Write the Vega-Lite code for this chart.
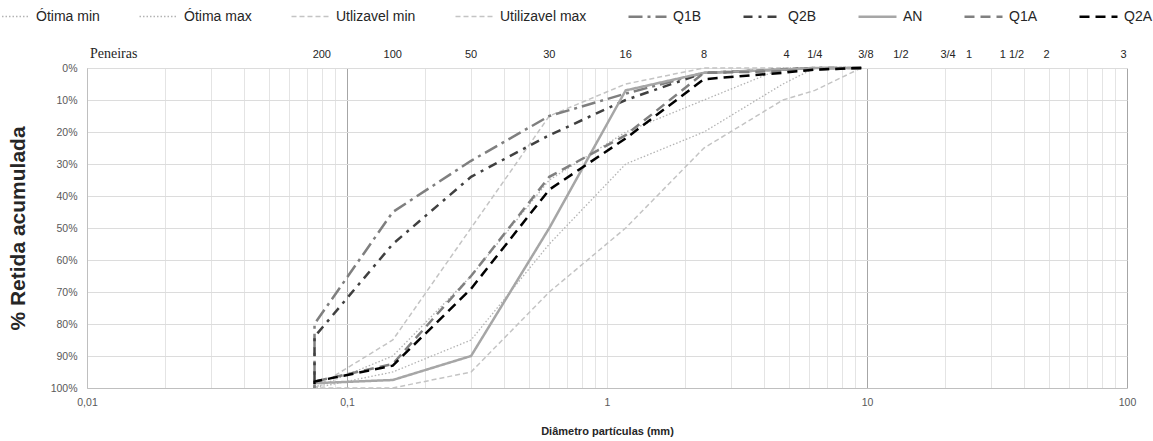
{
  "$schema": "https://vega.github.io/schema/vega-lite/v6.json",
  "width": 1040,
  "height": 320,
  "autosize": {"type": "none"},
  "padding": {"left": 87, "top": 68, "right": 26, "bottom": 53},
  "background": "white",
  "config": {
    "view": {"stroke": null},
    "font": "Liberation Sans",
    "axisY": {
      "ticks": false,
      "grid": true,
      "gridColor": "#dcdcdc",
      "domainColor": "#bfbfbf",
      "labelFontSize": 10.5,
      "labelColor": "#595959",
      "labelPadding": 10,
      "labelFlush": false,
      "labelOverlap": false,
      "titleFontSize": 21,
      "titleFontWeight": "bold",
      "titleColor": "#262626",
      "titlePadding": 22,
      "tickCount": 50
    },
    "legend": {
      "orient": "none",
      "legendX": -97,
      "legendY": -72,
      "direction": "horizontal",
      "columns": 9,
      "symbolType": "stroke",
      "symbolSize": 1444,
      "labelFontSize": 14,
      "labelOffset": 5,
      "columnPadding": 36,
      "labelColor": "#262626",
      "labelFont": "Liberation Sans"
    }
  },
  "datasets": {
    "curves": [
      {"s": "Ótima min", "i": 0, "d": 9.5, "p": 0},
      {"s": "Ótima min", "i": 1, "d": 6.3, "p": 0},
      {"s": "Ótima min", "i": 2, "d": 4.75, "p": 0},
      {"s": "Ótima min", "i": 3, "d": 2.36, "p": 10},
      {"s": "Ótima min", "i": 4, "d": 1.18, "p": 20},
      {"s": "Ótima min", "i": 5, "d": 0.6, "p": 35},
      {"s": "Ótima min", "i": 6, "d": 0.3, "p": 65},
      {"s": "Ótima min", "i": 7, "d": 0.15, "p": 90},
      {"s": "Ótima min", "i": 8, "d": 0.075, "p": 100},
      {"s": "Ótima max", "i": 0, "d": 9.5, "p": 0},
      {"s": "Ótima max", "i": 1, "d": 6.3, "p": 0},
      {"s": "Ótima max", "i": 2, "d": 4.75, "p": 5},
      {"s": "Ótima max", "i": 3, "d": 2.36, "p": 20},
      {"s": "Ótima max", "i": 4, "d": 1.18, "p": 30},
      {"s": "Ótima max", "i": 5, "d": 0.6, "p": 55},
      {"s": "Ótima max", "i": 6, "d": 0.3, "p": 85},
      {"s": "Ótima max", "i": 7, "d": 0.15, "p": 95},
      {"s": "Ótima max", "i": 8, "d": 0.075, "p": 100},
      {"s": "Utlizavel min", "i": 0, "d": 9.5, "p": 0},
      {"s": "Utlizavel min", "i": 1, "d": 6.3, "p": 0},
      {"s": "Utlizavel min", "i": 2, "d": 4.75, "p": 0},
      {"s": "Utlizavel min", "i": 3, "d": 2.36, "p": 0},
      {"s": "Utlizavel min", "i": 4, "d": 1.18, "p": 5},
      {"s": "Utlizavel min", "i": 5, "d": 0.6, "p": 15},
      {"s": "Utlizavel min", "i": 6, "d": 0.3, "p": 50},
      {"s": "Utlizavel min", "i": 7, "d": 0.15, "p": 85},
      {"s": "Utlizavel min", "i": 8, "d": 0.075, "p": 100},
      {"s": "Utilizavel max", "i": 0, "d": 9.5, "p": 0},
      {"s": "Utilizavel max", "i": 1, "d": 6.3, "p": 7},
      {"s": "Utilizavel max", "i": 2, "d": 4.75, "p": 10},
      {"s": "Utilizavel max", "i": 3, "d": 2.36, "p": 25},
      {"s": "Utilizavel max", "i": 4, "d": 1.18, "p": 50},
      {"s": "Utilizavel max", "i": 5, "d": 0.6, "p": 70},
      {"s": "Utilizavel max", "i": 6, "d": 0.3, "p": 95},
      {"s": "Utilizavel max", "i": 7, "d": 0.15, "p": 100},
      {"s": "Utilizavel max", "i": 8, "d": 0.075, "p": 100},
      {"s": "Q1B", "i": 0, "d": 9.5, "p": 0},
      {"s": "Q1B", "i": 1, "d": 6.3, "p": 0},
      {"s": "Q1B", "i": 2, "d": 4.75, "p": 0.5},
      {"s": "Q1B", "i": 3, "d": 2.36, "p": 1.5},
      {"s": "Q1B", "i": 4, "d": 1.18, "p": 8},
      {"s": "Q1B", "i": 5, "d": 0.6, "p": 15},
      {"s": "Q1B", "i": 6, "d": 0.3, "p": 29},
      {"s": "Q1B", "i": 7, "d": 0.15, "p": 45},
      {"s": "Q1B", "i": 8, "d": 0.075, "p": 80},
      {"s": "Q1B", "i": 9, "d": 0.075, "p": 100},
      {"s": "Q2B", "i": 0, "d": 9.5, "p": 0},
      {"s": "Q2B", "i": 1, "d": 6.3, "p": 0},
      {"s": "Q2B", "i": 2, "d": 4.75, "p": 0.5},
      {"s": "Q2B", "i": 3, "d": 2.36, "p": 1.5},
      {"s": "Q2B", "i": 4, "d": 1.18, "p": 10},
      {"s": "Q2B", "i": 5, "d": 0.6, "p": 21},
      {"s": "Q2B", "i": 6, "d": 0.3, "p": 34},
      {"s": "Q2B", "i": 7, "d": 0.15, "p": 55},
      {"s": "Q2B", "i": 8, "d": 0.075, "p": 84},
      {"s": "Q2B", "i": 9, "d": 0.075, "p": 100},
      {"s": "AN", "i": 0, "d": 9.5, "p": 0},
      {"s": "AN", "i": 1, "d": 6.3, "p": 0},
      {"s": "AN", "i": 2, "d": 4.75, "p": 0.5},
      {"s": "AN", "i": 3, "d": 2.36, "p": 1.5},
      {"s": "AN", "i": 4, "d": 1.18, "p": 7},
      {"s": "AN", "i": 5, "d": 0.6, "p": 50},
      {"s": "AN", "i": 6, "d": 0.3, "p": 90},
      {"s": "AN", "i": 7, "d": 0.15, "p": 97.5},
      {"s": "AN", "i": 8, "d": 0.075, "p": 98.5},
      {"s": "AN", "i": 9, "d": 0.075, "p": 100},
      {"s": "Q1A", "i": 0, "d": 9.5, "p": 0},
      {"s": "Q1A", "i": 1, "d": 6.3, "p": 0.5},
      {"s": "Q1A", "i": 2, "d": 4.75, "p": 1},
      {"s": "Q1A", "i": 3, "d": 2.36, "p": 1.5},
      {"s": "Q1A", "i": 4, "d": 1.18, "p": 21},
      {"s": "Q1A", "i": 5, "d": 0.6, "p": 34},
      {"s": "Q1A", "i": 6, "d": 0.3, "p": 65},
      {"s": "Q1A", "i": 7, "d": 0.15, "p": 92.5},
      {"s": "Q1A", "i": 8, "d": 0.075, "p": 98},
      {"s": "Q1A", "i": 9, "d": 0.075, "p": 100},
      {"s": "Q2A", "i": 0, "d": 9.5, "p": 0},
      {"s": "Q2A", "i": 1, "d": 6.3, "p": 0.5},
      {"s": "Q2A", "i": 2, "d": 4.75, "p": 1.5},
      {"s": "Q2A", "i": 3, "d": 2.36, "p": 3.5},
      {"s": "Q2A", "i": 4, "d": 1.18, "p": 22},
      {"s": "Q2A", "i": 5, "d": 0.6, "p": 38},
      {"s": "Q2A", "i": 6, "d": 0.3, "p": 69},
      {"s": "Q2A", "i": 7, "d": 0.15, "p": 93},
      {"s": "Q2A", "i": 8, "d": 0.075, "p": 98},
      {"s": "Q2A", "i": 9, "d": 0.075, "p": 100}
    ],
    "sieves": [
      {"n": "200", "d": 0.08},
      {"n": "100", "d": 0.15},
      {"n": "50", "d": 0.3},
      {"n": "30", "d": 0.6},
      {"n": "16", "d": 1.18},
      {"n": "8", "d": 2.36},
      {"n": "4", "d": 4.9},
      {"n": "1/4", "d": 6.3},
      {"n": "3/8", "d": 9.9},
      {"n": "1/2", "d": 13.5},
      {"n": "3/4", "d": 20.5},
      {"n": "1", "d": 24.7},
      {"n": "1 1/2", "d": 36.1},
      {"n": "2", "d": 49},
      {"n": "3", "d": 97}
    ],
    "title": [{"n": "Peneiras", "d": 0.01}]
  },
  "layer": [
    {
      "data": {"name": "curves"},
      "mark": {"type": "line", "strokeCap": "butt"},
      "encoding": {
        "x": {
          "field": "d",
          "type": "quantitative",
          "scale": {"type": "log", "domain": [0.01, 100], "nice": false},
          "axis": {
            "values": [0.01, 0.02, 0.03, 0.04, 0.05, 0.06, 0.07, 0.08, 0.09, 0.1, 0.2, 0.3, 0.4, 0.5, 0.6, 0.7, 0.8, 0.9, 1, 2, 3, 4, 5, 6, 7, 8, 9, 10, 20, 30, 40, 50, 60, 70, 80, 90, 100],
            "labelExpr": "(datum.value == 0.01 || datum.value == 0.1 || datum.value == 1 || datum.value == 10 || datum.value == 100) ? replace(toString(datum.value), '.', ',') : ''",
            "ticks": false,
            "grid": true,
            "gridColor": {"condition": {"test": "datum.value == 0.01 || datum.value == 0.1 || datum.value == 10 || datum.value == 100", "value": "#a6a6a6"}, "value": "#e4e4e4"},
            "gridWidth": 1,
            "domainColor": "#bfbfbf",
            "labelFontSize": 10.5,
            "labelColor": "#595959",
            "labelPadding": 9,
            "labelFlush": false,
            "labelOverlap": false,
            "labelBound": false,
            "title": "Diâmetro partículas (mm)",
            "titleFontSize": 11,
            "titleFontWeight": "bold",
            "titleColor": "#262626",
            "titlePadding": 18
          }
        },
        "y": {
          "field": "p",
          "type": "quantitative",
          "scale": {"domain": [0, 100], "reverse": true, "nice": false},
          "axis": {"values": [0, 10, 20, 30, 40, 50, 60, 70, 80, 90, 100], "tickCount": 50, "labelExpr": "datum.value + '%'", "title": "% Retida acumulada"}
        },
        "order": {"field": "i", "type": "quantitative"},
        "color": {
          "field": "s",
          "type": "nominal",
          "scale": {
            "domain": ["Ótima min", "Ótima max", "Utlizavel min", "Utilizavel max", "Q1B", "Q2B", "AN", "Q1A", "Q2A"],
            "range": ["#b3b3b3", "#b3b3b3", "#c4c4c4", "#c4c4c4", "#7f7f7f", "#404040", "#a6a6a6", "#808080", "#000000"]
          },
          "legend": {"title": null}
        },
        "strokeDash": {
          "field": "s",
          "type": "nominal",
          "scale": {
            "domain": ["Ótima min", "Ótima max", "Utlizavel min", "Utilizavel max", "Q1B", "Q2B", "AN", "Q1A", "Q2A"],
            "range": [[1.5, 2], [1.5, 2], [5, 3], [5, 3], [14, 5, 3, 5], [9, 6, 3, 6], [1, 0], [10, 6], [10, 6]]
          },
          "legend": {"title": null}
        },
        "strokeWidth": {
          "field": "s",
          "type": "nominal",
          "scale": {
            "type": "ordinal",
            "domain": ["Ótima min", "Ótima max", "Utlizavel min", "Utilizavel max", "Q1B", "Q2B", "AN", "Q1A", "Q2A"],
            "range": [1.3, 1.3, 1.5, 1.5, 2.5, 2.5, 2.5, 2.5, 2.5]
          },
          "legend": {"title": null}
        }
      }
    },
    {
      "mark": {"type": "rule", "color": "#000000", "strokeWidth": 1.3},
      "encoding": {"x": {"datum": 1, "type": "quantitative"}}
    },
    {
      "mark": {"type": "rule", "color": "#000000", "strokeWidth": 1.3},
      "encoding": {
        "y": {"datum": 0, "type": "quantitative", "axis": {"values": [0, 10, 20, 30, 40, 50, 60, 70, 80, 90, 100], "tickCount": 50, "labelExpr": "datum.value + '%'", "title": "% Retida acumulada"}}
      }
    },
    {
      "data": {"name": "sieves"},
      "mark": {"type": "text", "fontSize": 11, "color": "#262626", "baseline": "middle", "align": "center", "dy": -13, "font": "Liberation Sans"},
      "encoding": {
        "x": {"field": "d", "type": "quantitative"},
        "y": {"datum": 0, "type": "quantitative", "axis": {"values": [0, 10, 20, 30, 40, 50, 60, 70, 80, 90, 100], "tickCount": 50, "labelExpr": "datum.value + '%'", "title": "% Retida acumulada"}},
        "text": {"field": "n"}
      }
    },
    {
      "data": {"name": "title"},
      "mark": {"type": "text", "fontSize": 14, "color": "#262626", "baseline": "middle", "align": "left", "dx": 3, "dy": -14, "font": "Liberation Serif"},
      "encoding": {
        "x": {"field": "d", "type": "quantitative"},
        "y": {"datum": 0, "type": "quantitative", "axis": {"values": [0, 10, 20, 30, 40, 50, 60, 70, 80, 90, 100], "tickCount": 50, "labelExpr": "datum.value + '%'", "title": "% Retida acumulada"}},
        "text": {"field": "n"}
      }
    }
  ]
}
